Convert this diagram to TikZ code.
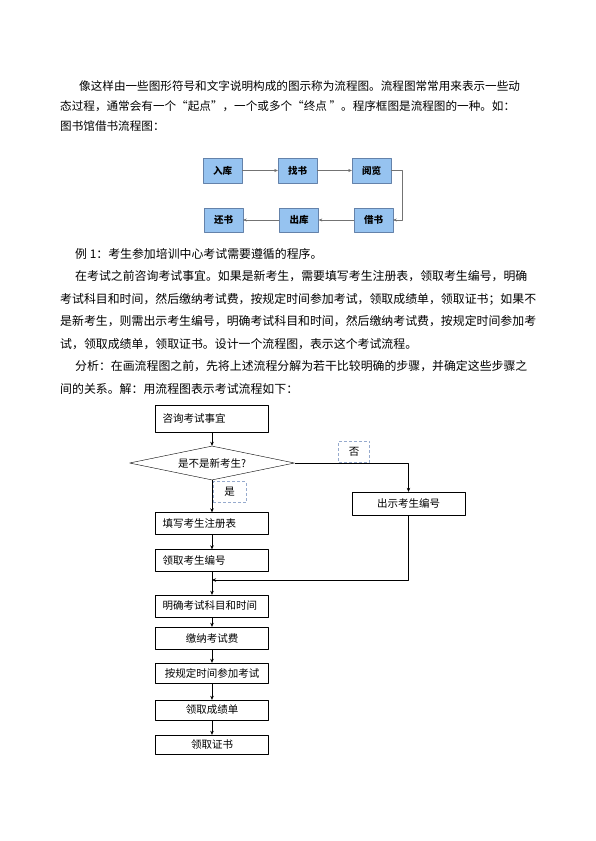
\documentclass[tikz,border=0pt]{standalone}
\usepackage{fontspec}
\newfontfamily\cjk{Noto Sans CJK SC}
\usetikzlibrary{arrows.meta,shapes.geometric}
\definecolor{kuanglan}{RGB}{150,195,240}
\definecolor{bianlan}{RGB}{100,130,170}
\definecolor{xulan}{RGB}{150,170,205}
\begin{document}
\begin{tikzpicture}[x=1pt, y=-1pt, font=\cjk, line join=round, >={Stealth[length=4pt,width=3.5pt]},
    hang/.style={anchor=west, inner sep=0pt},
    shu/.style={draw=bianlan, fill=kuanglan, minimum width=39pt, minimum height=25pt, inner sep=0pt, font=\cjk\bfseries\fontsize{9.5}{11}\selectfont},
    lianxian/.style={draw=black!55, -{Stealth[length=3.5pt,width=3pt,fill=black!80]}},
    kuang/.style={draw, minimum width=113pt, minimum height=22pt, inner xsep=7pt, inner ysep=0pt, font=\cjk\fontsize{10.5}{12}\selectfont},
    zuo/.style={kuang, text width=99pt, align=left},
    biao/.style={draw=xulan, dash pattern=on 3pt off 2pt, minimum width=31pt, minimum height=21pt, inner sep=0pt, font=\cjk\fontsize{10.5}{12}\selectfont}]
\useasboundingbox[fill=white] (0,0) rectangle (595,841);
% 第一段
\begin{scope}[font=\cjk\fontsize{11.6}{14}\selectfont]
  \node[hang] (p1) at (79,86) {像这样由一些图形符号和文字说明构成的图示称为流程图。流程图常常用来表示一些动};
  \node[hang] (p2) at (60,106) {态过程，通常会有一个“起点”，一个或多个“终点 ”。程序框图是流程图的一种。如：};
  \node[hang] (p3) at (60,126) {图书馆借书流程图：};
\end{scope}
% 借书流程图
\node[shu] (ruku) at (222.5,170.5) {入库};
\node[shu] (zhaoshu) at (297.5,170.5) {找书};
\node[shu] (yuelan) at (371.5,170.5) {阅览};
\node[shu, minimum height=24pt] (jieshu) at (373.5,220) {借书};
\node[shu, minimum height=24pt] (chuku) at (299,220) {出库};
\node[shu, minimum height=24pt] (huanshu) at (223.5,220) {还书};
\draw[lianxian] (ruku) -- (zhaoshu);
\draw[lianxian] (zhaoshu) -- (yuelan);
\draw[lianxian] (yuelan.east) -- ++(11,0) |- (jieshu.east);
\draw[lianxian] (jieshu) -- (chuku);
\draw[lianxian] (chuku) -- (huanshu);
% 例1
\begin{scope}[font=\cjk\fontsize{11.9}{14}\selectfont]
  \node[hang] (q1) at (75,254) {例 1：考生参加培训中心考试需要遵循的程序。};
  \node[hang] (q2) at (75,276.5) {在考试之前咨询考试事宜。如果是新考生，需要填写考生注册表，领取考生编号，明确};
  \node[hang] (q3) at (60,299) {考试科目和时间，然后缴纳考试费，按规定时间参加考试，领取成绩单，领取证书；如果不};
  \node[hang] (q4) at (60,321.5) {是新考生，则需出示考生编号，明确考试科目和时间，然后缴纳考试费，按规定时间参加考};
  \node[hang] (q5) at (60,344) {试，领取成绩单，领取证书。设计一个流程图，表示这个考试流程。};
  \node[hang] (q6) at (75,366.5) {分析：在画流程图之前，先将上述流程分解为若干比较明确的步骤，并确定这些步骤之};
  \node[hang] (q7) at (60,389) {间的关系。解：用流程图表示考试流程如下：};
\end{scope}
% 考试流程图
\node[zuo, minimum height=27pt] (zixun) at (212,418.5) {咨询考试事宜};
\node[draw, diamond, aspect=4.85, minimum width=165pt, minimum height=34pt, inner sep=0pt, font=\cjk\fontsize{10.5}{12}\selectfont] (panduan) at (212,463) {是不是新考生?};
\node[biao] (fou) at (354,451.5) {否};
\node[kuang, minimum height=23pt] (chushi) at (408.5,503.5) {出示考生编号};
\node[biao, minimum width=33pt] (shi) at (229.5,492) {是};
\node[zuo] (tianxie) at (212,523.5) {填写考生注册表};
\node[zuo] (bianhao) at (212,560.5) {领取考生编号};
\node[zuo] (mingque) at (212,606) {明确考试科目和时间};
\node[kuang] (jiaona) at (212,638) {缴纳考试费};
\node[kuang, minimum height=20pt] (canjia) at (212,673) {按规定时间参加考试};
\node[kuang, minimum height=20pt] (chengji) at (212,710) {领取成绩单};
\node[kuang, minimum height=19pt] (zhengshu) at (212,744.5) {领取证书};
\coordinate (huihe) at (212,580);
\draw[->] (zixun) -- (panduan);
\draw[->] (panduan) -- (tianxie);
\draw[->] (panduan.east) -| (chushi.north);
\draw[->] (chushi.south) |- (huihe);
\foreach \a/\b in {tianxie/bianhao, bianhao/mingque, mingque/jiaona, jiaona/canjia, canjia/chengji, chengji/zhengshu}
  \draw[->] (\a) -- (\b);
\end{tikzpicture}
\end{document}
